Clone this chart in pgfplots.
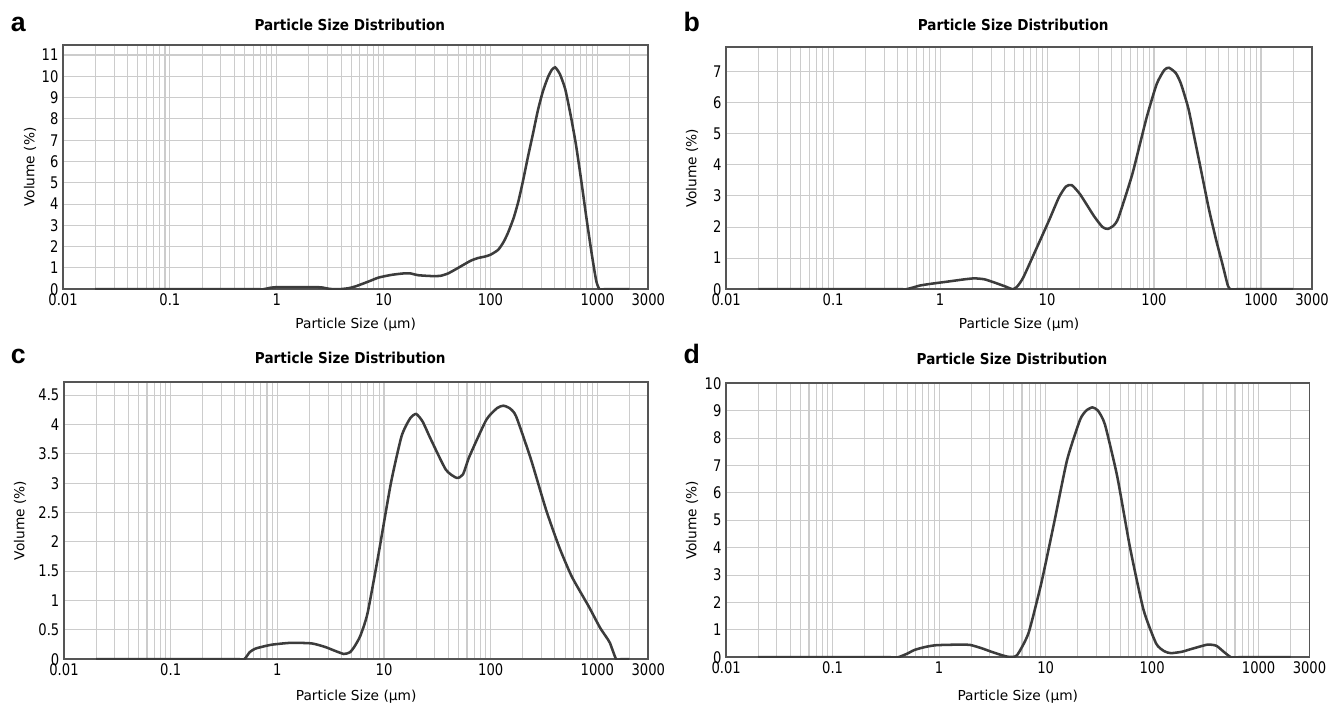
\documentclass[border=0pt]{standalone}
\usepackage{fontspec}
\setmainfont{DejaVu Sans}
\newfontfamily\tickfont{DejaVu Sans}[FakeStretch=0.82]
\newfontfamily\titlefont{DejaVu Sans}[FakeStretch=0.9]
\newfontfamily\letterfont{Liberation Sans}
\usepackage{pgfplots}
\pgfplotsset{compat=1.18}

\definecolor{gridc}{RGB}{204,204,204}
\definecolor{framec}{RGB}{85,85,85}
\definecolor{curvec}{RGB}{60,60,60}

\tikzset{curve/.style={draw=curvec, line width=1.9pt, smooth, tension=0.35}}

\begin{document}
\begin{tikzpicture}
\useasboundingbox (0,0) rectangle (996.75pt,528.75pt);

% a
\begin{axis}[
  scale only axis, anchor=south west,
  at={(47.3pt,311.8pt)}, width=438.9pt, height=183.2pt,
  xmode=log, xmin=0.01, xmax=3000, ymin=0, ymax=11.47,
  xtick={0.01,0.1,1,10,100,1000,3000},
  xticklabels={0.01,0.1,1,10,100,1000,3000},
  minor xtick={0.02,0.03,0.04,0.05,0.06,0.07,0.08,0.09,0.2,0.3,0.4,0.5,0.6,0.7,0.8,0.9,2,3,4,5,6,7,8,9,20,30,40,50,60,70,80,90,200,300,400,500,600,700,800,900,2000},
  ytick={0,1,...,11},
  xmajorgrids, xminorgrids, ymajorgrids,
  major grid style={draw=gridc, line width=0.8pt},
  minor grid style={draw=gridc, line width=0.8pt},
  major tick length=0pt, minor tick length=0pt,
  axis line style={draw=framec, line width=1.3pt},
  /pgf/number format/assume math mode=true,
  tick label style={font=\tickfont\fontsize{12}{12}\selectfont},
  label style={font=\fontsize{10.3}{12}\selectfont},
  title={Particle Size Distribution},
  title style={font=\titlefont\bfseries\fontsize{11.3}{12}\selectfont, anchor=center, at={([yshift=9.2pt]rel axis cs:0.49,1)}},
  xlabel={Particle Size (µm)},
  ylabel={Volume (\%)},
  xlabel style={at={([yshift=-26.8pt]rel axis cs:0.5,0)}, anchor=center},
  ylabel style={at={([xshift=-24.8pt]rel axis cs:0,0.5)}, anchor=center}]
\addplot[curve] coordinates {
(0.02,0) (0.6,0) (0.75,0) (0.85,0.06) (1,0.1) (1.5,0.1) (2,0.1) (2.6,0.09)
(3.1,0.02) (3.5,0) (4,0.01) (4.7,0.05) (5.5,0.14) (7.2,0.36) (9,0.55) (12,0.68)
(15.9,0.75) (18,0.74) (21,0.66) (28,0.62) (34,0.63) (40,0.74) (47,0.93) (56,1.15)
(66,1.35) (77,1.47) (88,1.53) (100,1.62) (118,1.85) (132,2.2) (146,2.65) (165,3.35)
(182,4.1) (200,5.0) (224,6.2) (250,7.3) (278,8.4) (310,9.3) (345,9.95) (375,10.3)
(404,10.42) (447,10.1) (501,9.4) (562,8.2) (631,6.8) (708,5.1) (794,3.3) (891,1.6)
(977,0.4) (1047,0) (1150,0) (2000,0)
};
\end{axis}

% b
\begin{axis}[
  scale only axis, anchor=south west,
  at={(544.6pt,311.8pt)}, width=439.4pt, height=181.5pt,
  xmode=log, xmin=0.01, xmax=3000, ymin=0, ymax=7.78,
  xtick={0.01,0.1,1,10,100,1000,3000},
  xticklabels={0.01,0.1,1,10,100,1000,3000},
  minor xtick={0.02,0.03,0.04,0.05,0.06,0.07,0.08,0.09,0.2,0.3,0.4,0.5,0.6,0.7,0.8,0.9,2,3,4,5,6,7,8,9,20,30,40,50,60,70,80,90,200,300,400,500,600,700,800,900,2000},
  ytick={0,1,...,7},
  xmajorgrids, xminorgrids, ymajorgrids,
  major grid style={draw=gridc, line width=0.8pt},
  minor grid style={draw=gridc, line width=0.8pt},
  major tick length=0pt, minor tick length=0pt,
  axis line style={draw=framec, line width=1.3pt},
  /pgf/number format/assume math mode=true,
  tick label style={font=\tickfont\fontsize{12}{12}\selectfont},
  label style={font=\fontsize{10.3}{12}\selectfont},
  title={Particle Size Distribution},
  title style={font=\titlefont\bfseries\fontsize{11.3}{12}\selectfont, anchor=center, at={([yshift=11pt]rel axis cs:0.49,1)}},
  xlabel={Particle Size (µm)},
  ylabel={Volume (\%)},
  xlabel style={at={([yshift=-26.8pt]rel axis cs:0.5,0)}, anchor=center},
  ylabel style={at={([xshift=-25.5pt]rel axis cs:0,0.5)}, anchor=center}]
\addplot[curve] coordinates {
(0.02,0) (0.4,0) (0.48,0) (0.55,0.05) (0.65,0.12) (0.8,0.17) (1.2,0.25) (1.7,0.32) (2.1,0.35)
(2.6,0.32) (3.2,0.22) (4,0.1) (4.8,0) (5.3,0.1) (6,0.38) (7.7,1.2) (10.4,2.2)
(12.9,2.95) (15,3.3) (17,3.35) (20.4,3.05) (27.5,2.35) (33,2.0) (37,1.94) (42,2.05)
(46.5,2.3) (62.7,3.7) (85,5.5) (106,6.6) (125,7.05) (138,7.12) (160,6.95) (179,6.6)
(210,5.8) (241,4.8) (280,3.7) (325,2.6) (380,1.6) (437,0.8) (490,0.12) (520,0) (600,0) (2000,0)
};
\end{axis}

% c
\begin{axis}[
  scale only axis, anchor=south west,
  at={(48pt,34.3pt)}, width=438.2pt, height=208.2pt,
  xmode=log, xmin=0.01, xmax=3000, ymin=0, ymax=4.73,
  xtick={0.01,0.1,1,10,100,1000,3000},
  xticklabels={0.01,0.1,1,10,100,1000,3000},
  minor xtick={0.02,0.03,0.04,0.05,0.06,0.07,0.08,0.09,0.2,0.3,0.4,0.5,0.6,0.7,0.8,0.9,2,3,4,5,6,7,8,9,20,30,40,50,60,70,80,90,200,300,400,500,600,700,800,900,2000},
  ytick={0,0.5,...,4.5},
  xmajorgrids, xminorgrids, ymajorgrids,
  major grid style={draw=gridc, line width=0.8pt},
  minor grid style={draw=gridc, line width=0.8pt},
  major tick length=0pt, minor tick length=0pt,
  axis line style={draw=framec, line width=1.3pt},
  /pgf/number format/assume math mode=true,
  tick label style={font=\tickfont\fontsize{12}{12}\selectfont},
  label style={font=\fontsize{10.3}{12}\selectfont},
  title={Particle Size Distribution},
  title style={font=\titlefont\bfseries\fontsize{11.3}{12}\selectfont, anchor=center, at={([yshift=11.8pt]rel axis cs:0.49,1)}},
  xlabel={Particle Size (µm)},
  ylabel={Volume (\%)},
  xlabel style={at={([yshift=-28pt]rel axis cs:0.5,0)}, anchor=center},
  ylabel style={at={([xshift=-33pt]rel axis cs:0,0.5)}, anchor=center}]
\addplot[curve] coordinates {
(0.02,0) (0.42,0) (0.49,0) (0.55,0.12) (0.62,0.18) (0.75,0.22) (0.9,0.25) (1.34,0.28) (2.1,0.27)
(2.8,0.21) (3.4,0.15) (4.2,0.09) (4.8,0.12) (5.3,0.22) (6,0.4) (7,0.78) (8.8,1.75)
(11.6,3.0) (14.6,3.8) (17.5,4.1) (20,4.18) (23,4.05) (27.6,3.74) (38,3.23) (48,3.09)
(55,3.15) (63,3.45) (91,4.08) (115,4.28) (131,4.32) (150,4.28) (173,4.14) (239,3.4)
(330,2.55) (437,1.92) (575,1.41) (830,0.9) (1050,0.55) (1200,0.39) (1310,0.28)
(1500,0) (1650,0) (2000,0)
};
\end{axis}

% d
\begin{axis}[
  scale only axis, anchor=south west,
  at={(544.6pt,35.8pt)}, width=437.5pt, height=205.5pt,
  xmode=log, xmin=0.01, xmax=3000, ymin=0, ymax=10,
  xtick={0.01,0.1,1,10,100,1000,3000},
  xticklabels={0.01,0.1,1,10,100,1000,3000},
  minor xtick={0.02,0.03,0.04,0.05,0.06,0.07,0.08,0.09,0.2,0.3,0.4,0.5,0.6,0.7,0.8,0.9,2,3,4,5,6,7,8,9,20,30,40,50,60,70,80,90,200,300,400,500,600,700,800,900,2000},
  ytick={0,1,...,10},
  xmajorgrids, xminorgrids, ymajorgrids,
  major grid style={draw=gridc, line width=0.8pt},
  minor grid style={draw=gridc, line width=0.8pt},
  major tick length=0pt, minor tick length=0pt,
  axis line style={draw=framec, line width=1.3pt},
  /pgf/number format/assume math mode=true,
  tick label style={font=\tickfont\fontsize{12}{12}\selectfont},
  label style={font=\fontsize{10.3}{12}\selectfont},
  title={Particle Size Distribution},
  title style={font=\titlefont\bfseries\fontsize{11.3}{12}\selectfont, anchor=center, at={([yshift=12.5pt]rel axis cs:0.49,1)}},
  xlabel={Particle Size (µm)},
  ylabel={Volume (\%)},
  xlabel style={at={([yshift=-29.5pt]rel axis cs:0.5,0)}, anchor=center},
  ylabel style={at={([xshift=-25.5pt]rel axis cs:0,0.5)}, anchor=center}]
\addplot[curve] coordinates {
(0.02,0) (0.33,0) (0.41,0) (0.5,0.13) (0.59,0.27) (0.75,0.38) (0.94,0.44) (1.48,0.46) (1.95,0.45)
(2.5,0.33) (3.1,0.2) (4,0.06) (4.6,0.01) (5.4,0.08) (6.9,0.88) (9.1,2.7) (12,4.9)
(15.9,7.2) (21,8.66) (24,9.0) (27.5,9.12) (31,9.0) (36,8.5) (47,6.6) (62,4.0)
(83,1.73) (109,0.5) (130,0.22) (150,0.15) (190,0.2) (228,0.29) (330,0.46) (400,0.42)
(470,0.2) (550,0) (650,0) (2000,0)
};
\end{axis}

% panel letters
\node[anchor=base west, inner sep=0pt, font=\letterfont\bfseries\fontsize{20}{20}\selectfont] at (7.9pt,505pt) {a};
\node[anchor=base west, inner sep=0pt, font=\letterfont\bfseries\fontsize{20}{20}\selectfont] at (512.6pt,505pt) {b};
\node[anchor=base west, inner sep=0pt, font=\letterfont\bfseries\fontsize{20}{20}\selectfont] at (7.9pt,255.75pt) {c};
\node[anchor=base west, inner sep=0pt, font=\letterfont\bfseries\fontsize{20}{20}\selectfont] at (512.6pt,255.75pt) {d};
\end{tikzpicture}
\end{document}
